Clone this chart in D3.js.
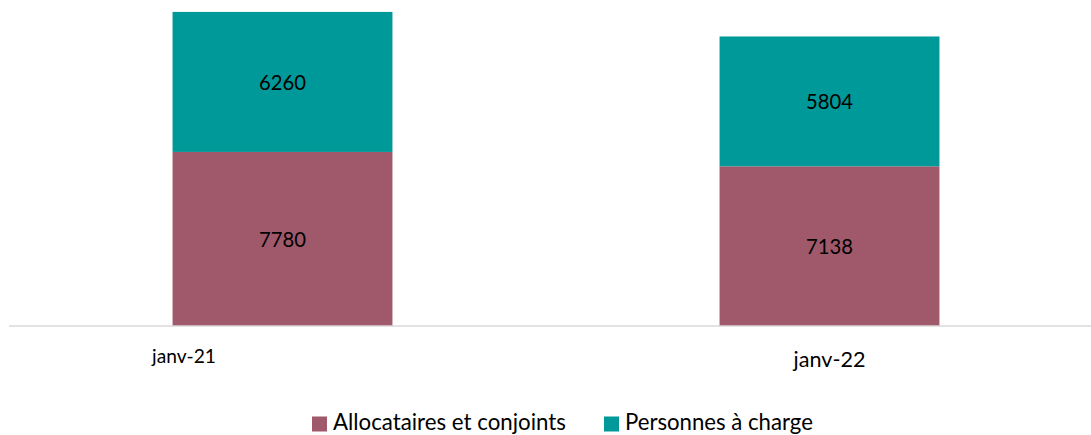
<!DOCTYPE html>
<html><head><meta charset="utf-8">
<script src="https://cdn.jsdelivr.net/npm/d3@7"></script>
<style>body{margin:0;background:#fff}svg{display:block}text{font-family:Lato,"Open Sans",sans-serif;fill:#000}</style>
</head><body>
<svg id="c" width="1091" height="435"></svg>
<script>
const categories = ["janv-21", "janv-22"];
const seriesNames = ["Allocataires et conjoints", "Personnes à charge"];
const allocataires = [7780, 7138];
const personnes = [6260, 5804];
const colors = ["#A0596B", "#009999"];

const svg = d3.select("#c");
const W = 1091, H = 435;
const baseY = 326;

const x = d3.scaleBand().domain(categories).range([9, 1103]).paddingInner(0.598).paddingOuter(0.299);
const y = d3.scaleLinear().domain([0, 14000]).range([baseY, 12.8]);

const rows = categories.map((c, i) => ({cat: c, a: allocataires[i], p: personnes[i]}));
const stack = d3.stack().keys(["a", "p"])(rows);

function fit(sel, target) {
  sel.each(function() {
    const el = d3.select(this);
    const fs = parseFloat(el.style("font-size"));
    const w = this.getComputedTextLength();
    el.style("font-size", (fs * target / w) + "px");
  });
}

const g = svg.append("g");
stack.forEach((layer, k) => {
  g.selectAll(null).data(layer).join("rect")
    .attr("x", d => x(d.data.cat))
    .attr("width", x.bandwidth())
    .attr("y", d => y(d[1]))
    .attr("height", d => y(d[0]) - y(d[1]))
    .attr("fill", colors[k]);
  g.selectAll(null).data(layer).join("text")
    .attr("x", d => x(d.data.cat) + x.bandwidth() / 2)
    .attr("y", d => (y(d[0]) + y(d[1])) / 2)
    .attr("text-anchor", "middle")
    .attr("dominant-baseline", "central")
    .style("font-size", "22px")
    .text(d => d[1] - d[0])
    .call(fit, 47);
});

// axis
const xAxis = d3.axisBottom(x).tickSize(0).tickFormat("");
const ax = svg.append("g").attr("transform", `translate(0,${baseY})`).call(xAxis);
ax.select(".domain").attr("stroke", "#d9d9d9").attr("stroke-width", 1.5).attr("d", "M9,0H1091");

// category labels (reference positions these unevenly)
const labelDx = [-98.5, 0];
const labelY = [363, 367];
const labelW = [64, 72];
svg.selectAll(".cat").data(categories).join("text").attr("class", "cat")
  .attr("x", (d, i) => x(d) + x.bandwidth() / 2 + labelDx[i])
  .attr("y", (d, i) => labelY[i])
  .attr("text-anchor", "middle")
  .style("font-size", "16px")
  .text(d => d)
  .each(function(d, i) { fit(d3.select(this), labelW[i]); });

// legend
const legX = [312, 604];
const legW = [233, 188];
const leg = svg.selectAll(".leg").data(seriesNames).join("g").attr("class", "leg")
  .attr("transform", (d, i) => `translate(${legX[i]},0)`);
leg.append("rect").attr("x", 0).attr("y", 416.5).attr("width", 15).attr("height", 15)
  .attr("fill", (d, i) => colors[i]);
leg.append("text").attr("x", 21).attr("y", 430).style("font-size", "21px")
  .text(d => d)
  .each(function(d, i) { fit(d3.select(this), legW[i]); });
</script>
</body></html>
